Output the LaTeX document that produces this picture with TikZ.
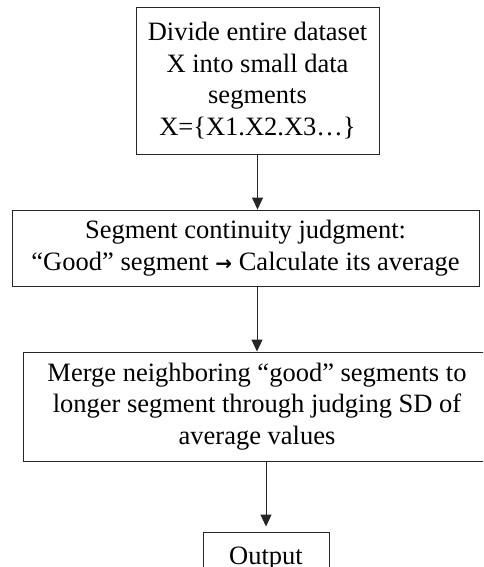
\documentclass[tikz,border=0pt]{standalone}
\usepackage{fontspec}
\setmainfont{Liberation Serif}
\newfontfamily\arrowfont{DejaVu Sans}
\usetikzlibrary{arrows.meta}
\begin{document}
\begin{tikzpicture}[x=1pt,y=-1pt,
  box/.style={draw=black!85,line width=0.9pt,inner sep=0pt,align=center,
    font=\fontsize{26.5}{31.5}\selectfont},
  flow/.style={draw=black!85,line width=0.9pt,-{Triangle[length=12pt,width=11pt]}}]
\useasboundingbox (0,0) rectangle (483,567);
\clip (0,0) rectangle (483,567);
\node[box,minimum width=243pt,minimum height=147pt] (b1) at (257.5,80.5)
  {Divide entire dataset\\X into small data\\segments\\X=\{X1.X2.X3…\}};
\node[box,minimum width=467pt,minimum height=76pt] (b2) at (245.5,248)
  {Segment continuity judgment:\\“Good” segment {\arrowfont\bfseries\fontsize{20}{31.5}\selectfont →} Calculate its average};
\node[box,minimum width=468pt,minimum height=109pt] (b3) at (257,406.5)
  {Merge neighboring “good” segments to\\longer segment through judging SD of\\average values};
\node[box,minimum width=126pt,minimum height=56pt] (out) at (266,560) {\raisebox{9pt}{Output}};
\draw[flow] (b1.south) -- (b1.south |- b2.north);
\draw[flow] (b3.north |- b2.south) -- (b3.north);
\draw[flow,shorten >=5pt] (out.north |- b3.south) -- (out.north);
\end{tikzpicture}
\end{document}
